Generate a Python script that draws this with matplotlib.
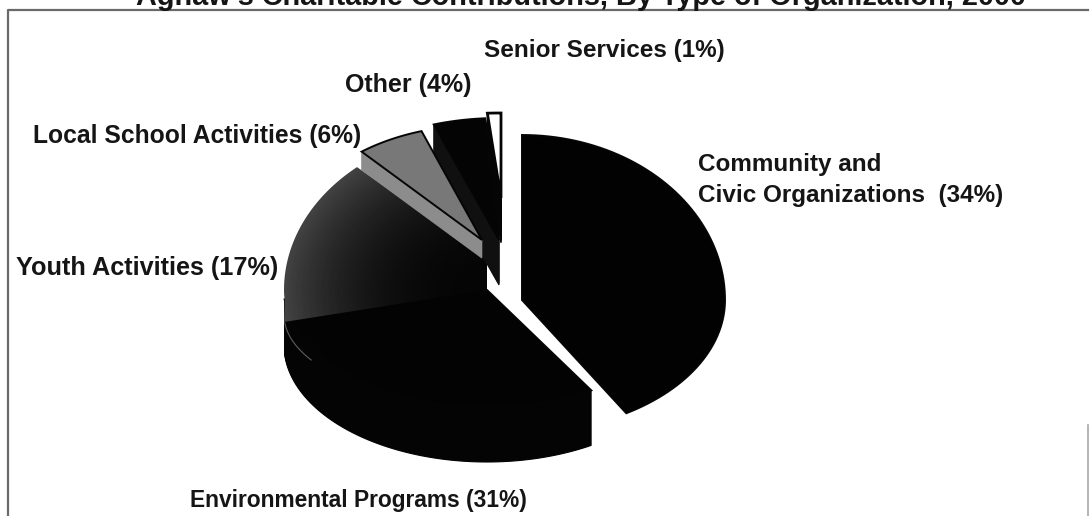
import numpy as np
import matplotlib
matplotlib.use("Agg")
import matplotlib.pyplot as plt
from matplotlib.patches import Polygon

# Shares as printed on the slice labels, clockwise from twelve o'clock
categories = ["Community and\nCivic Organizations  (34%)", "Environmental Programs (31%)",
              "Youth Activities (17%)", "Local School Activities (6%)",
              "Other (4%)", "Senior Services (1%)"]
shares = [34, 31, 17, 6, 4, 1]
title = "Aghaw's Charitable Contributions, By Type of Organization, 2000"

# slice layout: apex x, apex y, x radius, upper y radius, lower y radius, extrusion depth
slice_geom = [
    (522, 300, 203, 165, 132, 0),
    (487, 290, 203, 160, 117, 55),
    (487, 290, 203, 160, 117, 0),
    (482, 240, 188, 115, 115, 18),
    (499, 240, 203, 122, 122, 45),
    (501, 198, 203, 85, 85, 45),
]
top_colors = ["#020202", "#030303", "#2c2c2c", "#787878", "#040404", "#ffffff"]
side_colors = ["#020202", "#040404", "#151515", "#8c8c8c", "#101010", "#050505"]
# x, y of each label's left end (pixels) and its font size
label_pos = [(698, 180), (190, 500), (16, 268), (33, 136), (345, 85), (484, 50)]
label_size = [17.5, 16.4, 18.2, 17.7, 18.0, 17.5]


def view_angle(theta):
    # the tilted pie stretches the near side, so shift angles towards the viewer
    return theta + 21 * np.sin(np.radians(theta) / 2) ** 2


def wedge_points(geom, t0, t1):
    ax_x, ax_y, rx, ry_up, ry_low, _ = geom
    t = np.radians(np.linspace(t0, t1, 80))
    ry = np.where(np.cos(t) > 0, ry_up, ry_low)
    xs = ax_x + rx * np.sin(t)
    ys = ax_y - ry * np.cos(t)
    return np.vstack([[ax_x, ax_y], np.column_stack([xs, ys])])


fig = plt.figure(figsize=(10.91, 5.16), dpi=100)
ax = fig.add_axes([0, 0, 1, 1])

# frame round the chart
ax.plot([8, 8, 1088], [516, 10, 10], color="#6a6a6a", lw=1.6)
ax.plot([1088, 1088], [425, 516], color="#a8a8a8", lw=1.2)

edges = np.cumsum([0] + shares) / sum(shares) * 360
starts = view_angle(edges[:-1])
ends = view_angle(edges[1:])
ends[-1] = 360

# back to front: big slices first, the three small exploded ones on top
for z, i in enumerate([1, 2, 4, 5, 3, 0]):
    geom = slice_geom[i]
    pts = wedge_points(geom, starts[i], ends[i])
    for d in range(geom[5], 0, -1):
        ax.add_patch(Polygon(pts + [0, d], closed=True, fc=side_colors[i], ec=side_colors[i], lw=0.8, zorder=1 + z / 10))
    if i == 2:
        # youth slice runs down the outer wall and up under the local school slice
        outline = np.vstack([pts[0], [284, 322], pts[1:], [487, 258]])
        yy, xx = np.mgrid[155:330, 280:490]
        dist = np.hypot((xx - geom[0]) / geom[2], (yy - geom[1]) / geom[3])
        shade = np.clip(0.02 + 0.24 * dist ** 2.5, 0, 1)
        img = ax.imshow(shade, extent=(280, 490, 330, 155), cmap="gray", vmin=0, vmax=1,
                        interpolation="bilinear", aspect="auto", zorder=1 + z / 10)
        img.set_clip_path(Polygon(outline, closed=True, transform=ax.transData))
    else:
        lw = 2.0 if i == 5 else 1.4
        ax.add_patch(Polygon(pts, closed=True, fc=top_colors[i], ec="#050505", lw=lw, zorder=1.05 + z / 10))

ax.set_xlim(0, 1091)
ax.set_ylim(516, 0)
ax.axis("off")

# thin light rim on the lower left of the environmental slice
env = slice_geom[1]
t = np.radians(np.linspace(240, 265, 30))
ax.plot(env[0] + env[2] * np.sin(t), 315 - 90 * np.cos(t), color="#5e5e5e", lw=0.8, zorder=2)

for text, (x, y), size in zip(categories, label_pos, label_size):
    ax.text(x, y, text, ha="left", va="center", fontsize=size, fontweight="bold",
            family="Liberation Sans", color="#151515", linespacing=1.42, zorder=3)

ax.text(581, 5, title, ha="center", va="baseline", fontsize=20.8, fontweight="bold",
        family="Liberation Sans", color="#151515", zorder=3)

fig.savefig("out.png", dpi=100)
